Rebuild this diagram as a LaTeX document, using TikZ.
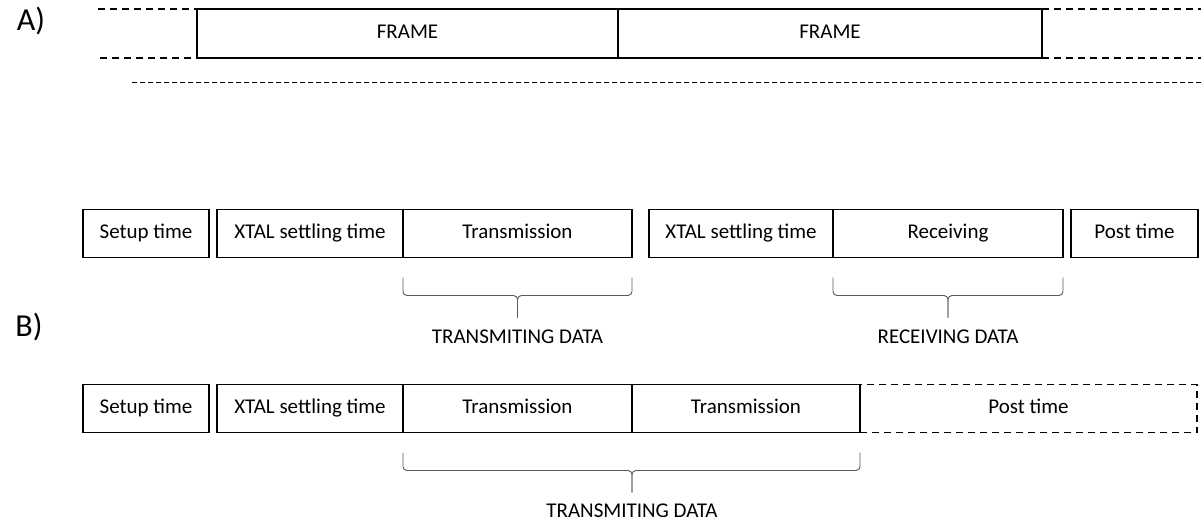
\documentclass[tikz,border=0pt]{standalone}
\usepackage{fontspec}
\setmainfont{Carlito}
\usetikzlibrary{positioning}

\tikzset{
  slot/.style={draw, line width=1.5pt, minimum height=48pt, inner sep=0pt, outer sep=0pt, text height=14pt, text depth=4.2pt, font=\fontsize{21}{24}\selectfont},
  extdash/.style={line width=1.5pt, dash pattern=on 7pt off 5pt},
  bracepath/.style={gray!70!black, line width=0.9pt, rounded corners=4pt},
  lbl/.style={font=\fontsize{21}{24}\selectfont, inner sep=1pt},
  part/.style={font=\fontsize{32}{36}\selectfont},
}

\begin{document}
\begin{tikzpicture}[x=1pt,y=1pt]
\useasboundingbox (0,0) rectangle (1201,-522);

% A) frame timeline
\node[part] (partA) at (31,-21) {A)};
\node[slot, minimum width=421pt, minimum height=49pt] (frame1) at (407.5,-33.5) {FRAME};
\node[slot, minimum width=424pt, minimum height=49pt, right=0pt of frame1] (frame2) {FRAME};
\coordinate (leftTop) at (98,-9);
\coordinate (leftBot) at (100,-58);
\coordinate (rightTop) at (1201,-9);
\coordinate (rightBot) at (1201,-58);
\draw[extdash] (leftTop) -- (frame1.north west);
\draw[extdash] (leftBot) -- (frame1.south west);
\draw[extdash] (frame2.north east) -- (rightTop);
\draw[extdash] (frame2.south east) -- (rightBot);
\coordinate (axisL) at (132,-82);
\coordinate (axisR) at (1201,-82);
\draw[line width=0.8pt, dash pattern=on 5pt off 3pt] (axisL) -- (axisR);

% B) slot sequences
\node[part] (partB) at (29,-327) {B)};

% first sequence: transmit then receive
\node[slot, minimum width=126pt] (setup1) at (146,-233.5) {Setup time};
\node[slot, minimum width=186pt, right=8pt of setup1] (xtal1) {XTAL settling time};
\node[slot, minimum width=229pt, right=0pt of xtal1] (tx1) {Transmission};
\node[slot, minimum width=184pt, right=17pt of tx1] (xtal2) {XTAL settling time};
\node[slot, minimum width=230pt, right=0pt of xtal2] (rx1) {Receiving};
\node[slot, minimum width=127pt, right=8pt of rx1] (post1) {Post time};

\coordinate (tip1) at ([yshift=-60pt]tx1.south);
\draw[bracepath] ([yshift=-20pt]tx1.south west) |- ([yshift=-38pt]tx1.south) -- (tip1);
\draw[bracepath] ([yshift=-20pt]tx1.south east) |- ([yshift=-38pt]tx1.south) -- (tip1);
\node[lbl] (txdata1) at ([yshift=-79pt]tx1.south) {TRANSMITING DATA};

\coordinate (tip2) at ([yshift=-60pt]rx1.south);
\draw[bracepath] ([yshift=-20pt]rx1.south west) |- ([yshift=-38pt]rx1.south) -- (tip2);
\draw[bracepath] ([yshift=-20pt]rx1.south east) |- ([yshift=-38pt]rx1.south) -- (tip2);
\node[lbl] (rxdata1) at ([yshift=-79pt]rx1.south) {RECEIVING DATA};

% second sequence: two transmissions
\node[slot, minimum width=126pt] (setup2) at (146,-408.5) {Setup time};
\node[slot, minimum width=186pt, right=8pt of setup2] (xtal3) {XTAL settling time};
\node[slot, minimum width=229pt, right=0pt of xtal3] (tx2) {Transmission};
\node[slot, minimum width=228pt, right=0pt of tx2] (tx3) {Transmission};
\node[slot, minimum width=337pt, right=0pt of tx3, dash pattern=on 7pt off 5pt] (post2) {Post time};
\draw[line width=1.5pt] (tx3.north east) -- (tx3.south east);

\coordinate (tip3) at ([yshift=-60pt]tx2.south east);
\draw[bracepath] ([yshift=-20pt]tx2.south west) |- ([yshift=-38pt]tx2.south east) -- (tip3);
\draw[bracepath] ([yshift=-20pt]tx3.south east) |- ([yshift=-38pt]tx2.south east) -- (tip3);
\node[lbl] (txdata2) at ([yshift=-78pt]tx2.south east) {TRANSMITING DATA};
\end{tikzpicture}
\end{document}
